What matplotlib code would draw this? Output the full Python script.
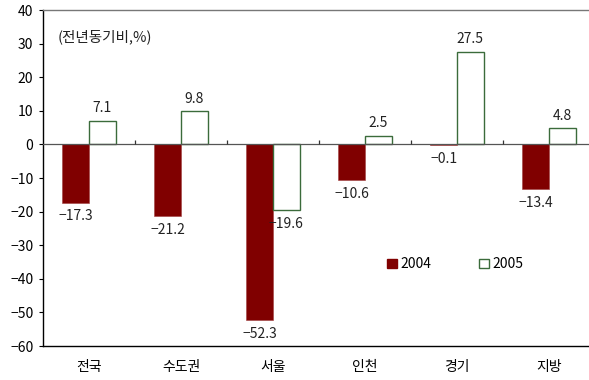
import matplotlib
matplotlib.use("Agg")
import matplotlib.pyplot as plt
from matplotlib.patches import Patch
import numpy as np

plt.rcParams['font.family'] = ['Noto Sans CJK KR', 'DejaVu Sans']
plt.rcParams['axes.unicode_minus'] = True

categories = ['전국', '수도권', '서울', '인천', '경기', '지방']
values_2004 = [-17.3, -21.2, -52.3, -10.6, -0.1, -13.4]
values_2005 = [7.1, 9.8, -19.6, 2.5, 27.5, 4.8]
series_names = ['2004', '2005']
unit_label = '(전년동기비,%)'
y_ticks = [40, 30, 20, 10, 0, -10, -20, -30, -40, -50, -60]

fill_2004 = '#800000'
edge_2005 = '#3b6b3b'
fs = 10

fig = plt.figure(figsize=(5.89, 3.80), dpi=100)
ax = fig.add_axes([43 / 589, 34 / 380, 546 / 589, 336 / 380])

x = np.arange(len(categories))
w = 0.29
b1 = ax.bar(x - w / 2, values_2004, w, color=fill_2004, edgecolor='#a04040',
            linewidth=0.4, zorder=3)
b2 = ax.bar(x + w / 2, values_2005, w, color='white', edgecolor=edge_2005,
            linewidth=1.0, zorder=3)


def fmt(v):
    s = f'{abs(v):.1f}'
    return ('\u2212' + s) if v < 0 else s


for bars, vals in ((b1, values_2004), (b2, values_2005)):
    for rect, v in zip(bars, vals):
        cx = rect.get_x() + rect.get_width() / 2
        if v >= 0:
            ax.annotate(fmt(v), (cx, v), xytext=(0, 4), textcoords='offset points',
                        ha='center', va='bottom', fontsize=fs, color='#222222')
        else:
            ax.annotate(fmt(v), (cx, v), xytext=(0, -5), textcoords='offset points',
                        ha='center', va='top', fontsize=fs, color='#222222')

ax.set_ylim(-60, 40)
ax.set_yticks(y_ticks)
ax.set_xlim(-0.5, -0.5 + 546 / 92)
ax.set_xticks(x)
ax.set_xticklabels(categories, fontsize=fs)
ax.tick_params(axis='x', length=0, pad=10)
ax.tick_params(axis='y', length=3, pad=4, labelsize=fs, direction='out')

for side in ('left', 'bottom'):
    ax.spines[side].set_color('black')
    ax.spines[side].set_linewidth(1.0)
ax.spines['top'].set_color('#777777')
ax.spines['top'].set_linewidth(1.0)
ax.spines['right'].set_visible(False)

# zero line with small separator ticks between categories
ax.axhline(0, color='#555555', linewidth=0.9, zorder=4)
ax.vlines(x[:-1] + 0.5, 0, 1.3, color='#333333', linewidth=0.9, zorder=4)

ax.text(0.027, 0.92, unit_label, transform=ax.transAxes, ha='left', va='center',
        fontsize=10.5, color='#222222')

handles = [Patch(facecolor=fill_2004, edgecolor=fill_2004),
           Patch(facecolor='white', edgecolor=edge_2005, linewidth=1.0)]
ax.legend(handles, series_names, loc='center left', bbox_to_anchor=(0.607, 0.243),
          ncol=2, frameon=False, fontsize=fs, handlelength=0.7, handleheight=0.7,
          handletextpad=0.3, columnspacing=3.4)

fig.savefig('out.png', dpi=100)
